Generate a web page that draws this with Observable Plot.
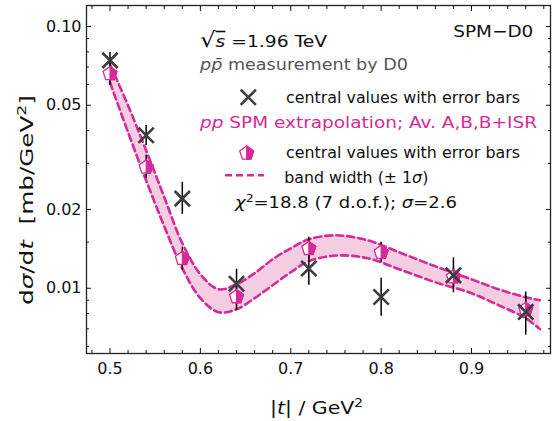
<!DOCTYPE html>
<html><head><meta charset="utf-8">
<script src="https://cdn.jsdelivr.net/npm/d3@7"></script>
<script src="https://cdn.jsdelivr.net/npm/@observablehq/plot@0.6"></script>
<style>body{margin:0;background:#fff}</style>
</head><body><div id="chart"></div>
<script>
// |t| values of the D0 measurement and SPM extrapolation
const tPoints = [0.50, 0.54, 0.58, 0.64, 0.72, 0.80, 0.88, 0.96];
// D0 central values with error bars (mb/GeV^2)
const d0Value = [0.0742, 0.0384, 0.0220, 0.0104, 0.0119, 0.00926, 0.0112, 0.00812];
const d0Low   = [0.0691, 0.0351, 0.01916, 0.00924, 0.01027, 0.00782, 0.00961, 0.00662];
const d0High  = [0.0796, 0.0419, 0.02539, 0.01182, 0.01372, 0.01092, 0.01307, 0.00968];
// SPM extrapolation central values with error bars
const spmValue = [0.0660, 0.0290, 0.01298, 0.00927, 0.01417, 0.0137, 0.01104, 0.00829];
const spmLow   = [0.0595, 0.0263, 0.01171, 0.00824, 0.0129, 0.01257, 0.01009, 0.00755];
const spmHigh  = [0.0735, 0.0322, 0.01434, 0.01036, 0.01566, 0.01498, 0.01203, 0.00916];
// SPM band (±1 sigma)
const tBand = [0.50, 0.52, 0.54, 0.56, 0.58, 0.60, 0.62, 0.64, 0.66, 0.68, 0.70, 0.72, 0.75, 0.785, 0.82, 0.86, 0.90, 0.93, 0.96, 0.9757];
const bandUpper = [0.0716, 0.0499, 0.0336, 0.0223, 0.01485, 0.01131, 0.00991, 0.01036, 0.01141, 0.0129, 0.01421, 0.01538, 0.01593, 0.01525, 0.01372, 0.01213, 0.01082, 0.00991, 0.00924, 0.0090];
const bandLower = [0.0611, 0.0394, 0.0258, 0.01724, 0.01192, 0.00916, 0.0081, 0.00831, 0.00916, 0.01027, 0.01151, 0.01268, 0.01333, 0.01302, 0.01182, 0.01054, 0.00957, 0.00861, 0.00768, 0.00698];
// ticks
const yMajor = [0.01, 0.02, 0.05, 0.1];
const yMajorLabels = ["0.01", "0.02", "0.05", "0.10"];
const yMinor = [0.006, 0.007, 0.008, 0.009, 0.015, 0.03, 0.04, 0.06, 0.07, 0.08, 0.09];
const xMajor = [0.5, 0.6, 0.7, 0.8, 0.9];
const xMajorLabels = ["0.5", "0.6", "0.7", "0.8", "0.9"];
const xMinor = [0.48, 0.52, 0.54, 0.56, 0.58, 0.62, 0.64, 0.66, 0.68, 0.72, 0.74, 0.76, 0.78, 0.82, 0.84, 0.86, 0.88, 0.92, 0.94, 0.96, 0.98];

const MAG = "#d62a96";
const BAND = "#f5cde3";
const CROSS = "#3d3d3d";

const band = tBand.map((t, i) => ({t, lo: bandLower[i], hi: bandUpper[i]}));
const d0 = tPoints.map((t, i) => ({t, v: d0Value[i], lo: d0Low[i], hi: d0High[i]}));
const spm = tPoints.map((t, i) => ({t, v: spmValue[i], lo: spmLow[i], hi: spmHigh[i]}));

const S72 = Math.sin(2 * Math.PI / 5), C72 = Math.cos(2 * Math.PI / 5);
const S36 = Math.sin(Math.PI / 5), C36 = Math.cos(Math.PI / 5);
const pentagonFull = {draw(ctx, size) {
  const R = Math.sqrt(size / Math.PI);
  ctx.moveTo(0, -R); ctx.lineTo(R * S72, -R * C72); ctx.lineTo(R * S36, R * C36);
  ctx.lineTo(-R * S36, R * C36); ctx.lineTo(-R * S72, -R * C72); ctx.closePath();
}};
const pentagonRight = {draw(ctx, size) {
  const R = Math.sqrt(size / Math.PI);
  ctx.moveTo(0, -R); ctx.lineTo(R * S72, -R * C72); ctx.lineTo(R * S36, R * C36);
  ctx.lineTo(0, R * C36); ctx.closePath();
}};
const noText = () => "";

const chart = Plot.plot({
  width: 552, height: 421,
  marginLeft: 86, marginRight: 2, marginTop: 5, marginBottom: 68,
  style: {fontFamily: "DejaVu Sans, sans-serif", fontSize: "16px", background: "white", color: "#111"},
  x: {domain: [0.474, 0.9874]},
  y: {type: "log", domain: [0.005633, 0.12027]},
  marks: [
    Plot.areaY(band, {x: "t", y1: "lo", y2: "hi", fill: BAND, curve: "catmull-rom"}),
    Plot.lineY(band, {x: "t", y: "hi", stroke: MAG, strokeWidth: 2.6, strokeDasharray: "7,4", curve: "catmull-rom"}),
    Plot.lineY(band, {x: "t", y: "lo", stroke: MAG, strokeWidth: 2.6, strokeDasharray: "7,4", curve: "catmull-rom"}),
    Plot.ruleX(spm, {x: "t", y1: "lo", y2: "hi", stroke: "#000", strokeWidth: 1.5}),
    Plot.ruleX(d0, {x: "t", y1: "lo", y2: "hi", stroke: "#000", strokeWidth: 1.5}),
    Plot.dot(spm, {x: "t", y: "v", symbol: pentagonFull, r: 7.3, fill: "white", stroke: MAG, strokeWidth: 1.3}),
    Plot.dot(spm, {x: "t", y: "v", symbol: pentagonRight, r: 7.3, fill: MAG, stroke: MAG, strokeWidth: 1.1}),
    Plot.dot(d0, {x: "t", y: "v", symbol: "times", r: 7, stroke: CROSS, strokeWidth: 2.6}),
    Plot.frame({stroke: "#222", strokeWidth: 1.3}),
    Plot.axisY({ticks: yMajor, tickSize: -5, tickFormat: noText, label: null}),
    Plot.axisY({ticks: yMinor, tickSize: -3, tickFormat: noText, label: null}),
    Plot.axisY({anchor: "right", ticks: yMajor, tickSize: -5, tickFormat: noText, label: null}),
    Plot.axisY({anchor: "right", ticks: yMinor, tickSize: -3, tickFormat: noText, label: null}),
    Plot.axisY({ticks: yMajor, tickSize: 0, tickPadding: 5, tickFormat: d => yMajorLabels[yMajor.indexOf(d)], label: null, fontSize: 16}),
    Plot.axisX({ticks: xMajor, tickSize: -5, tickFormat: noText, label: null}),
    Plot.axisX({ticks: xMinor, tickSize: -3, tickFormat: noText, label: null}),
    Plot.axisX({anchor: "top", ticks: xMajor, tickSize: -5, tickFormat: noText, label: null}),
    Plot.axisX({anchor: "top", ticks: xMinor, tickSize: -3, tickFormat: noText, label: null}),
    Plot.axisX({ticks: xMajor, tickSize: 0, tickPadding: 9, tickFormat: d => xMajorLabels[xMajor.indexOf(d)], label: null, fontSize: 16})
  ]
});
document.getElementById("chart").append(chart);

// annotations, legend and axis titles
const svg = d3.select(chart);
const g = svg.append("g").attr("font-family", "DejaVu Sans, sans-serif");
function addText(x, y, html, {size = 16, fill = "#111", width = null, anchor = "start", rotate = 0} = {}) {
  const t = g.append("text")
    .attr("transform", `translate(${x},${y}) rotate(${rotate})`)
    .attr("font-size", size).attr("fill", fill).attr("text-anchor", anchor)
    .attr("xml:space", "preserve")
    .html(html);
  if (width) t.attr("textLength", width).attr("lengthAdjust", "spacingAndGlyphs");
  return t;
}
const it = s => `<tspan font-style="italic">${s}</tspan>`;
addText(200, 46.7, `<tspan font-size="21">√</tspan><tspan font-style="italic" text-decoration="overline">s</tspan> =1.96 TeV`, {width: 127});
addText(200, 70, `${it("p")}${it("p\u0304")} measurement by D0`, {fill: "#555", width: 208});
addText(453.3, 36.7, "SPM−D0", {width: 80});
addText(286, 103, "central values with error bars", {width: 234});
addText(200, 128.3, `${it("pp")} SPM extrapolation; Av. A,B,B+ISR`, {fill: MAG, width: 337});
addText(286, 158.3, "central values with error bars", {width: 234});
addText(284.3, 182.5, `band width (± 1${it("σ")})`, {width: 144});
addText(235, 208.3, `${it("χ")}<tspan dy="-6" font-size="11">2</tspan><tspan dy="6">=18.8 (7 d.o.f.); </tspan>${it("σ")}=2.6`, {width: 222});
addText(316.5, 414, `|${it("t")}| / GeV<tspan dy="-7" font-size="12">2</tspan>`, {size: 18, anchor: "middle", width: 93});
addText(33, 200, `d${it("σ")}/d${it("t")}  [mb/GeV<tspan dy="-7" font-size="12">2</tspan><tspan dy="7">]</tspan>`, {size: 17, anchor: "middle", width: 210, rotate: -90});

// legend glyphs
g.append("path").attr("d", d3.symbol(d3.symbolTimes, Math.PI * 49)()).attr("transform", "translate(248.3,97.3)")
  .attr("fill", "none").attr("stroke", CROSS).attr("stroke-width", 2.6);
g.append("path").attr("d", d3.symbol(pentagonFull, Math.PI * 7.3 * 7.3)()).attr("transform", "translate(246.7,153.3)")
  .attr("fill", "white").attr("stroke", MAG).attr("stroke-width", 1.3);
g.append("path").attr("d", d3.symbol(pentagonRight, Math.PI * 7.3 * 7.3)()).attr("transform", "translate(246.7,153.3)")
  .attr("fill", MAG).attr("stroke", MAG).attr("stroke-width", 1.1);
g.append("line").attr("x1", 225).attr("x2", 264).attr("y1", 175.3).attr("y2", 175.3)
  .attr("stroke", MAG).attr("stroke-width", 2.6).attr("stroke-dasharray", "7,4");
</script>
</body></html>
